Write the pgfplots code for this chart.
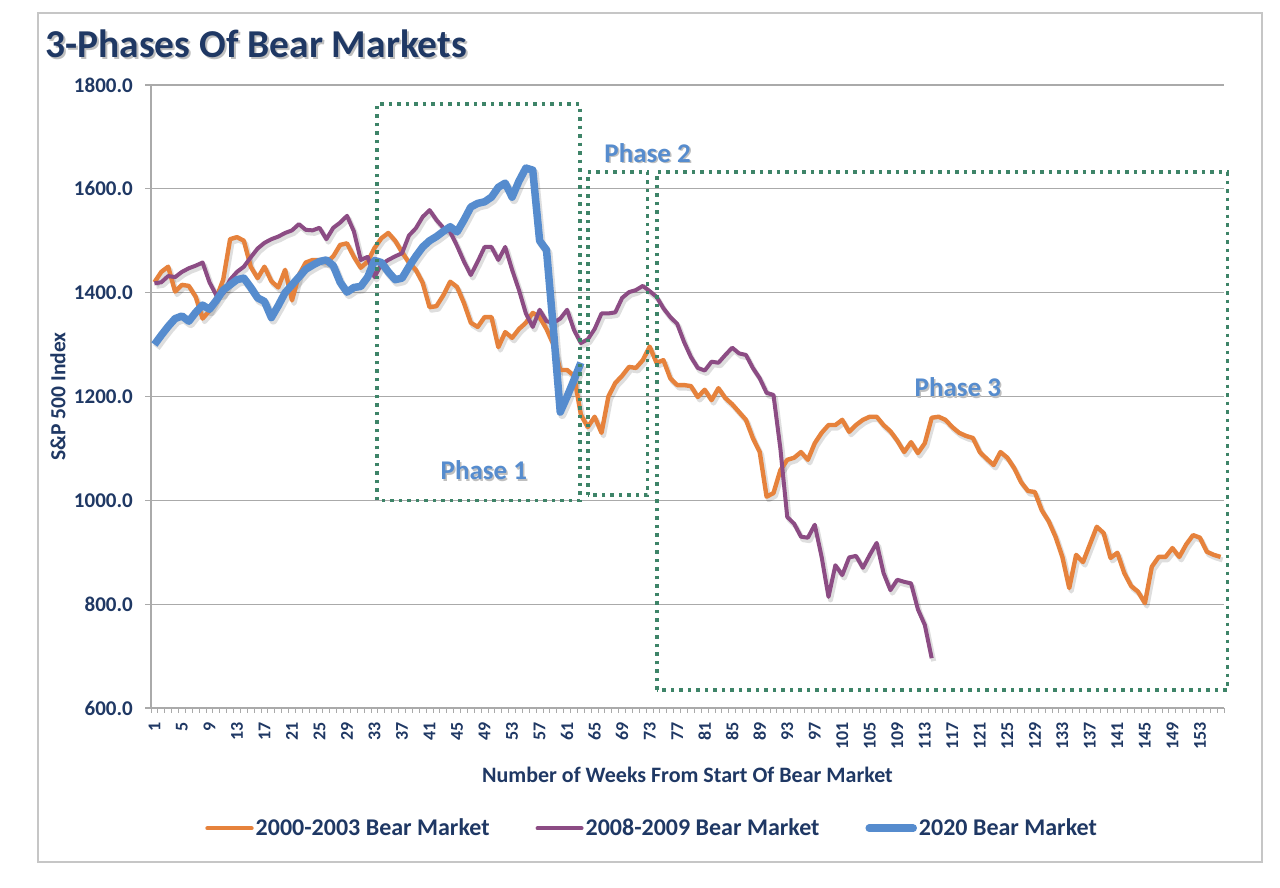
\documentclass[border=0pt]{standalone}
\usepackage{pgfplots}
\usepackage{pgfplotstable}
\pgfplotsset{compat=1.18}
\usetikzlibrary{calc}
\usepackage{fontspec}
\setmainfont{Carlito}
\definecolor{txt}{RGB}{31,56,100}
\definecolor{orgc}{RGB}{230,130,60}
\definecolor{purc}{RGB}{140,76,132}
\definecolor{bluc}{RGB}{86,140,206}
\definecolor{grnc}{RGB}{62,132,104}
\definecolor{gridc}{RGB}{170,170,170}

\pgfplotstableread{
w v
1 1420
2 1440
3 1450
4 1402
5 1415
6 1413
7 1392
8 1350
9 1365
10 1390
11 1425
12 1503
13 1507
14 1500
15 1450
16 1428
17 1450
18 1422
19 1410
20 1444
21 1385
22 1434
23 1458
24 1463
25 1463
26 1458
27 1470
28 1492
29 1495
30 1469
31 1448
32 1460
33 1486
34 1505
35 1515
36 1500
37 1478
38 1458
39 1444
40 1419
41 1372
42 1374
43 1395
44 1421
45 1411
46 1380
47 1342
48 1334
49 1353
50 1353
51 1295
52 1324
53 1313
54 1330
55 1342
56 1361
57 1353
58 1330
59 1300
60 1251
61 1251
62 1240
63 1165
64 1141
65 1161
66 1130
67 1200
68 1226
69 1240
70 1257
71 1255
72 1270
73 1296
74 1265
75 1270
76 1235
77 1222
78 1222
79 1220
80 1199
81 1213
82 1193
83 1216
84 1197
85 1185
86 1170
87 1155
88 1120
89 1093
90 1007
91 1014
92 1058
93 1078
94 1082
95 1093
96 1078
97 1110
98 1130
99 1145
100 1145
101 1155
102 1132
103 1145
104 1155
105 1161
106 1161
107 1145
108 1133
109 1115
110 1093
111 1112
112 1091
113 1110
114 1159
115 1161
116 1155
117 1141
118 1130
119 1124
120 1120
121 1093
122 1080
123 1068
124 1093
125 1082
126 1062
127 1035
128 1018
129 1016
130 981
131 960
132 930
133 891
134 831
135 895
136 881
137 915
138 949
139 937
140 889
141 899
142 860
143 835
144 824
145 802
146 872
147 891
148 891
149 908
150 891
151 915
152 933
153 928
154 901
155 895
156 891
}\orangedata

\pgfplotstableread{
w v
1 1418
2 1420
3 1432
4 1430
5 1440
6 1447
7 1452
8 1458
9 1420
10 1395
11 1398
12 1425
13 1440
14 1450
15 1468
16 1485
17 1496
18 1503
19 1508
20 1515
21 1520
22 1532
23 1521
24 1520
25 1525
26 1503
27 1525
28 1535
29 1548
30 1518
31 1463
32 1469
33 1430
34 1455
35 1463
36 1470
37 1476
38 1510
39 1524
40 1546
41 1559
42 1540
43 1525
44 1517
45 1490
46 1460
47 1434
48 1460
49 1488
50 1488
51 1463
52 1488
53 1444
54 1405
55 1360
56 1334
57 1367
58 1345
59 1342
60 1350
61 1367
62 1328
63 1303
64 1310
65 1330
66 1360
67 1360
68 1362
69 1390
70 1401
71 1405
72 1413
73 1403
74 1392
75 1370
76 1353
77 1340
78 1305
79 1276
80 1255
81 1250
82 1267
83 1265
84 1280
85 1294
86 1283
87 1280
88 1255
89 1235
90 1207
91 1203
92 1100
93 968
94 955
95 930
96 928
97 953
98 891
99 814
100 875
101 856
102 890
103 893
104 870
105 895
106 918
107 860
108 827
109 847
110 843
111 840
112 790
113 760
114 696
}\purpledata

\pgfplotstableread{
w v
1 1300
2 1318
3 1335
4 1350
5 1355
6 1345
7 1362
8 1376
9 1368
10 1385
11 1405
12 1415
13 1425
14 1428
15 1410
16 1390
17 1383
18 1352
19 1375
20 1400
21 1415
22 1430
23 1445
24 1453
25 1460
26 1463
27 1452
28 1420
29 1401
30 1410
31 1412
32 1430
33 1462
34 1458
35 1440
36 1425
37 1428
38 1450
39 1470
40 1488
41 1500
42 1508
43 1518
44 1527
45 1517
46 1540
47 1565
48 1572
49 1575
50 1584
51 1603
52 1611
53 1584
54 1615
55 1640
56 1636
57 1500
58 1482
59 1330
60 1170
61 1200
62 1232
63 1265
}\bluedata

\begin{document}
\begin{tikzpicture}
\path[fill=white] (0pt,0pt) rectangle (1280pt,888pt);
\draw[gray!45, line width=1.5pt] (38pt,875pt) rectangle (1262pt,26pt);
\node[anchor=base west, inner sep=0pt, text=black!25, font=\bfseries\fontsize{39.5}{40}\selectfont] at (47pt,828pt) {3-Phases Of Bear Markets};
\node[anchor=base west, inner sep=0pt, text=txt, font=\bfseries\fontsize{39.5}{40}\selectfont] at (45pt,830pt) {3-Phases Of Bear Markets};
\begin{axis}[
  at={(151pt,180pt)}, anchor=south west,
  width=1073pt, height=623pt, scale only axis,
  xmin=0.5, xmax=156.5, ymin=600, ymax=1800,
  clip=false,
  axis x line=bottom, axis y line=left,
  axis line style={-, draw=gridc, line width=1.3pt},
  ytick={600,800,...,1800},
  ymajorgrids, grid style={gridc, line width=1.3pt},
  xtick={1,5,...,153},
  minor xtick={0.5,1.5,...,156.5},
  major x tick style={draw=none},
  minor x tick style={draw=gridc, line width=1pt},
  major y tick style={draw=gridc, line width=1.3pt},
  tick align=outside,
  major tick length=6pt, minor tick length=5pt,
  /pgf/number format/assume math mode=true,
  ticklabel style={text=txt},
  xticklabel style={rotate=90, anchor=east, inner sep=8pt, font=\bfseries\fontsize{18}{18}\selectfont},
  yticklabel style={inner sep=12pt, font=\bfseries\fontsize{21}{21}\selectfont, /pgf/number format/.cd, fixed, fixed zerofill, precision=1, 1000 sep={}},
  xlabel={Number of Weeks From Start Of Bear Market},
  xlabel style={at={(axis description cs:0.5,-0.1075)}, anchor=center, font=\bfseries\fontsize{22}{22}\selectfont, text=txt},
  ylabel={S\&P 500 Index},
  ylabel style={at={(axis description cs:-0.0867,0.5)}, anchor=center, rotate=0, font=\bfseries\fontsize{21.5}{21.5}\selectfont, text=txt},
  legend style={at={(axis description cs:0.467,-0.193)}, anchor=center, draw=none, fill=none,
    legend columns=3, font=\bfseries\fontsize{24}{24}\selectfont, text=txt,
    /tikz/every even column/.append style={column sep=44pt},
    /tikz/every odd column/.append style={column sep=0pt}},
  legend image code/.code={\draw[#1, line cap=round] (0pt,0pt) -- (44pt,0pt);},
]
% shadows
\addplot[black, opacity=0.13, line width=5pt, line join=round, forget plot, transform canvas={xshift=2pt, yshift=-3pt}] table[x=w, y=v] {\orangedata};
\addplot[black, opacity=0.13, line width=5pt, line join=round, forget plot, transform canvas={xshift=2pt, yshift=-3pt}] table[x=w, y=v] {\purpledata};
\addplot[black, opacity=0.13, line width=8pt, line join=round, forget plot, transform canvas={xshift=2pt, yshift=-3pt}] table[x=w, y=v] {\bluedata};
% series
\addplot[orgc, line width=4.4pt, line join=round, no marks] table[x=w, y=v] {\orangedata};
\addlegendentry{2000-2003 Bear Market}
\addplot[purc, line width=4pt, line join=round, no marks] table[x=w, y=v] {\purpledata};
\addlegendentry{2008-2009 Bear Market}
\addplot[bluc, line width=7.5pt, line join=round, no marks] table[x=w, y=v] {\bluedata};
\addlegendentry{2020 Bear Market}
% phase boxes
\addplot[grnc, line width=3.5pt, dash pattern=on 3.5pt off 5pt, forget plot, no marks] coordinates {(33.35,1000) (33.35,1763) (62.85,1763) (62.85,1000) (33.35,1000)};
\addplot[grnc, line width=3.5pt, dash pattern=on 3.5pt off 5pt, forget plot, no marks] coordinates {(64.0,1010) (64.0,1632) (72.7,1632) (72.7,1010) (64.0,1010)};
\addplot[grnc, line width=3.5pt, dash pattern=on 3.5pt off 5pt, forget plot, no marks] coordinates {(74.05,635) (74.05,1632) (157.0,1632) (157.0,635) (74.05,635)};
% phase labels
\node[text=black!25, font=\bfseries\fontsize{27}{27}\selectfont] at ($(axis cs:48.9,1058)+(1.5pt,-1.5pt)$) {Phase 1};
\node[text=bluc, font=\bfseries\fontsize{27}{27}\selectfont] at (axis cs:48.9,1058) {Phase 1};
\node[text=black!25, font=\bfseries\fontsize{27}{27}\selectfont] at ($(axis cs:72.7,1669)+(1.5pt,-1.5pt)$) {Phase 2};
\node[text=bluc, font=\bfseries\fontsize{27}{27}\selectfont] at (axis cs:72.7,1669) {Phase 2};
\node[text=black!25, font=\bfseries\fontsize{27}{27}\selectfont] at ($(axis cs:117.8,1218)+(1.5pt,-1.5pt)$) {Phase 3};
\node[text=bluc, font=\bfseries\fontsize{27}{27}\selectfont] at (axis cs:117.8,1218) {Phase 3};
\end{axis}
\end{tikzpicture}
\end{document}
